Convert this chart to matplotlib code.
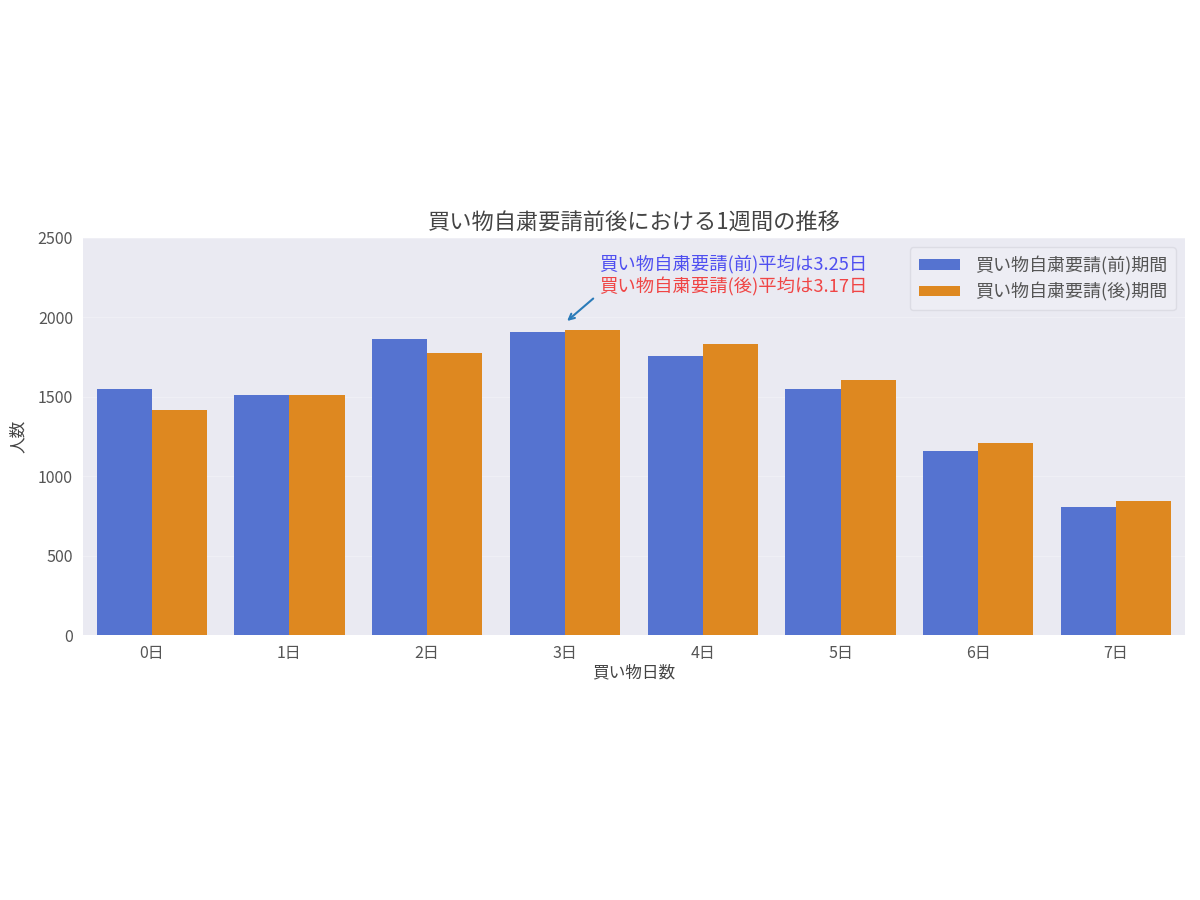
import numpy as np
import matplotlib
matplotlib.use("Agg")
import matplotlib.pyplot as plt

plt.rcParams['font.family'] = ['Noto Sans CJK JP', 'DejaVu Sans']

# データ
days = ["0日", "1日", "2日", "3日", "4日", "5日", "6日", "7日"]
before = [1550, 1512, 1865, 1911, 1754, 1548, 1160, 805]
after = [1414, 1512, 1773, 1918, 1834, 1607, 1208, 844]
label_before = "買い物自粛要請(前)期間"
label_after = "買い物自粛要請(後)期間"
note_before = "買い物自粛要請(前)平均は3.25日"
note_after = "買い物自粛要請(後)平均は3.17日"

fig = plt.figure(figsize=(12, 9), dpi=100)
ax = fig.add_axes([0.069, 0.2944, 0.9185, 0.4412])
ax.set_facecolor('#eaeaf2')
for s in ax.spines.values():
    s.set_visible(False)

x = np.arange(len(days))
w = 0.4
ax.bar(x - w/2, before, w, color='#5573d0', label=label_before, zorder=2)
ax.bar(x + w/2, after, w, color='#de8820', label=label_after, zorder=2)

ax.set_xlim(-0.5, len(days) - 0.5)
ax.set_ylim(0, 2500)
ax.set_yticks(np.arange(0, 2501, 500))
ax.set_xticks(x)
ax.set_xticklabels(days)
ax.yaxis.grid(True, color='#efeff5', linewidth=1, zorder=0)
ax.tick_params(length=0, labelsize=11.5, labelcolor='#555555', pad=7)

ax.set_title("買い物自粛要請前後における1週間の推移", fontsize=16, color='#444444', pad=6)
ax.set_xlabel("買い物日数", fontsize=12, color='#444444', labelpad=2)
ax.set_ylabel("人数", fontsize=12, color='#444444', labelpad=8)

# 平均の注記
ax.annotate('', xy=(3.0, 1966), xytext=(3.22, 2130),
            arrowprops=dict(arrowstyle='->', color='#2b7bb9', lw=1.5), zorder=3)
ax.text(3.245, 2332, note_before, color='#4f4ff0', fontsize=13.2, va='center', ha='left')
ax.text(3.245, 2193, note_after, color='#f04545', fontsize=13.2, va='center', ha='left')

leg = ax.legend(loc='upper right', fontsize=13, facecolor='#ededf4', edgecolor='#dcdce4',
                framealpha=1, borderpad=0.5, handlelength=2.3, handleheight=0.5,
                labelspacing=0.4, borderaxespad=0.5)
for t in leg.get_texts():
    t.set_color('#555555')

fig.savefig("out.png", dpi=100, facecolor='white')
